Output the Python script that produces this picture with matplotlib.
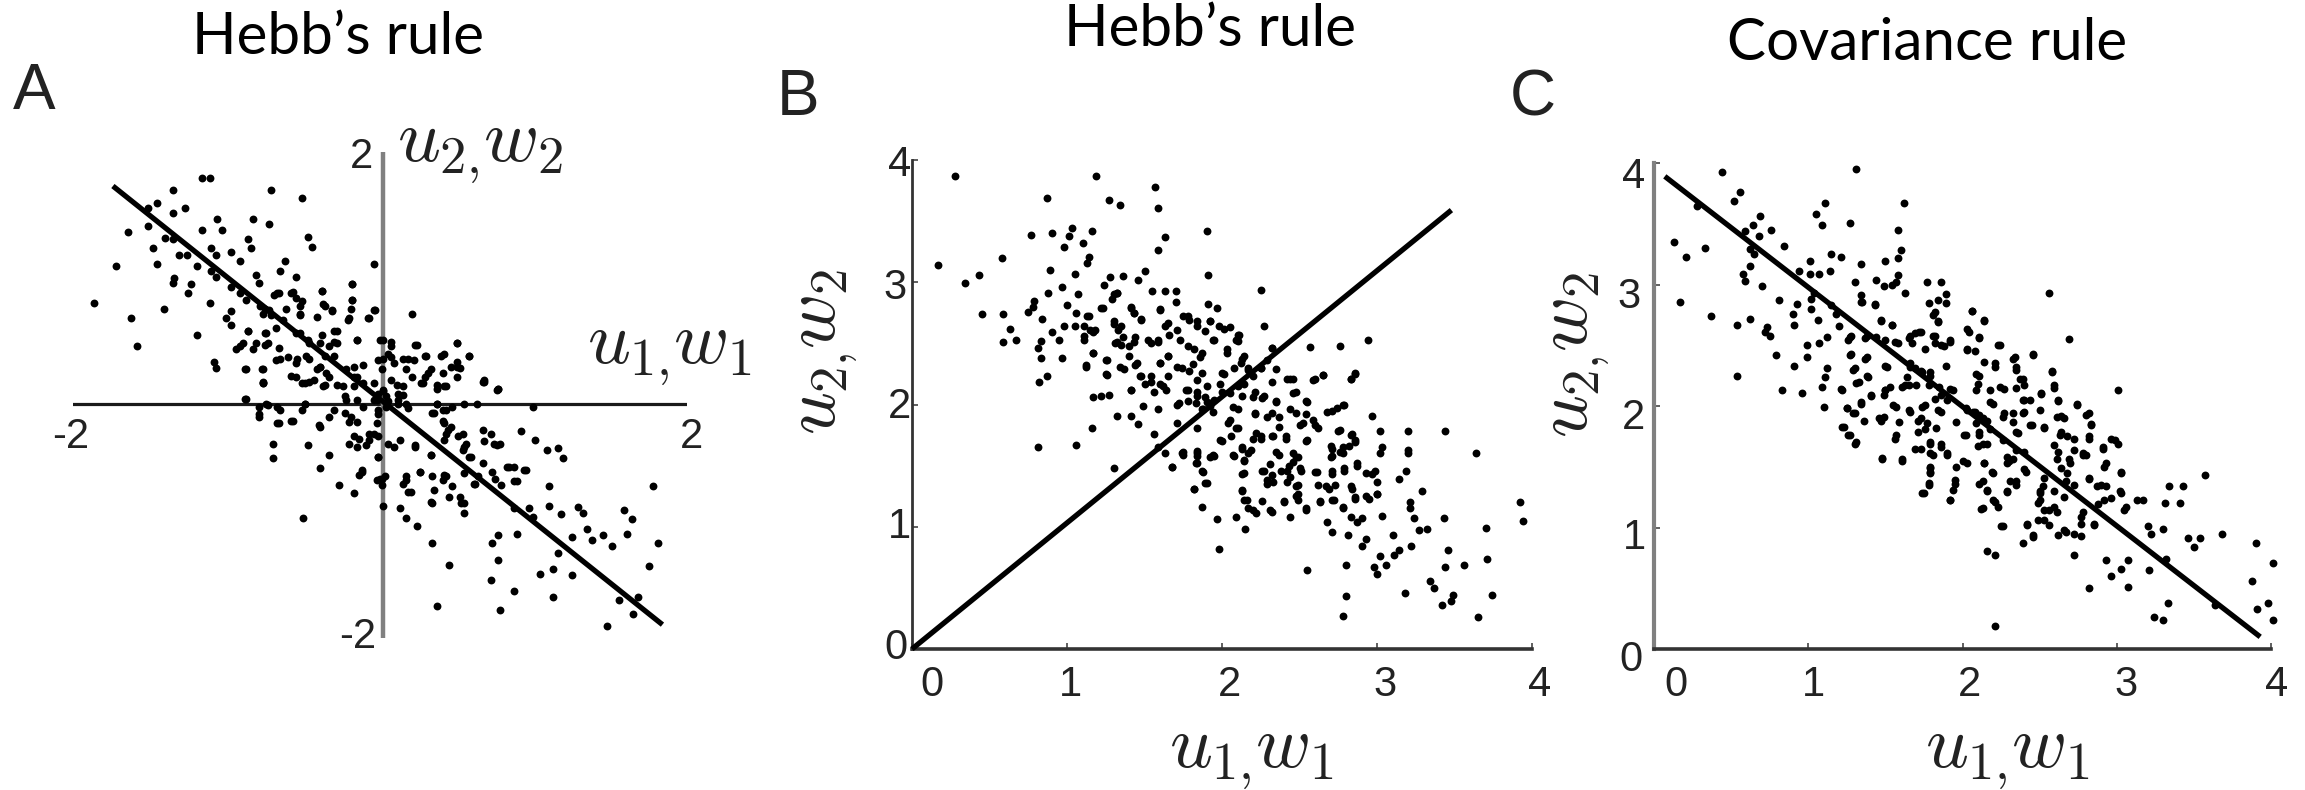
import numpy as np
import matplotlib
matplotlib.use('Agg')
import matplotlib.pyplot as plt

plt.rcParams['mathtext.fontset'] = 'cm'

W, H = 2305, 790

titles = ["Hebb\u2019s rule", "Hebb\u2019s rule", "Covariance rule"]
panel_letters = ['A', 'B', 'C']
ticks_ab = [0, 1, 2, 3, 4]

# (u, w)
points_a = [(-1.11,1.79),(-1.16,1.79),(-1.35,1.69),(-0.71,1.69),(-0.51,1.62),(-1.45,1.58),(-1.51,1.54),(-1.27,1.54),(-1.35,1.50),
(-1.06,1.45),(-0.83,1.45),(-0.72,1.41),(-1.64,1.34),(-1.51,1.39),(-1.16,1.36),(-1.03,1.36),(-0.47,1.30),(-0.44,1.22),(-1.40,1.29),(-1.35,1.28),
(-0.86,1.28),(-0.84,1.21),(-0.91,1.10),(-1.48,1.21),(-1.45,1.08),(-1.31,1.15),(-1.26,1.15),(-1.10,1.21),(-0.97,1.18),(-1.07,1.15),
(-1.72,1.06),(-0.04,1.08),(-0.62,1.10),(-0.65,1.02),(-0.55,0.97),(-1.19,1.06),(-1.10,1.02),(-1.07,0.97),(-0.81,0.99),(-0.79,0.92),
(-1.34,0.96),(-1.35,0.92),(-1.23,0.91),(-1.25,0.84),(-0.97,0.89),(-0.91,0.84),(-0.87,0.78),(-0.57,0.85),(-0.55,0.80),(-0.67,0.84),
(-0.38,0.86),(-0.18,0.91),(-0.18,0.78),(-1.86,0.76),(-1.11,0.76),(-1.41,0.71),(-1.62,0.63),(0.21,0.67),(-0.75,0.71),(-0.71,0.66),
(-0.97,0.69),(-1.00,0.63),(-0.97,0.58),(-0.52,0.73),(-0.52,0.66),(-0.36,0.73),(-0.31,0.69),(-0.19,0.71),(-0.20,0.63),(-0.04,0.70),(-0.07,0.63),
(-0.63,0.62),(-0.68,0.55),(-0.55,0.51),(-0.30,0.53),(-1.19,0.49),(-1.58,0.40),(-0.86,0.53),(-0.75,0.51),(-0.91,0.40),(-0.81,0.43),(-0.73,0.43),
(-0.47,0.45),(-0.39,0.43),(-0.30,0.44),(-0.15,0.45),(0.02,0.45),(0.07,0.40),(0.24,0.41),(0.50,0.43),(0.42,0.34),(0.58,0.32),(0.29,0.32),(0.18,0.30),
(-1.08,0.27),(-1.07,0.22),(-0.87,0.21),(-0.76,0.21),(-0.76,0.11),(-0.65,0.30),(-0.55,0.26),(-0.46,0.30),(-0.39,0.23),(-0.30,0.32),(-0.17,0.23),
(-0.01,0.29),(0.09,0.26),(0.05,0.34),(-0.55,0.15),(-0.43,0.12),(-0.33,0.15),(-0.17,0.15),(-0.04,0.10),(0.07,0.12),(0.15,0.07),(0.02,0.03),
(0.31,0.18),(0.41,0.18),(0.50,0.23),(0.28,0.10),(0.42,0.07),(0.68,0.12),(0.77,0.05),(-0.76,0.10),(-0.49,0.10),(-0.36,0.08),(-0.17,0.07),
(0.02,0.04),(0.12,0.01),(0.37,0.08),(0.68,0.11),(0.76,0.04),(-0.87,-0.03),(-0.79,-0.10),(-0.79,-0.18),(-0.73,-0.08),(-0.65,-0.12),(-0.67,-0.23),
(-0.57,-0.21),(-0.49,-0.07),(-0.39,-0.26),(-0.30,-0.12),(-0.22,-0.04),(-0.19,-0.18),(-0.04,-0.04),(0.05,-0.05),(0.12,-0.04),(-0.01,-0.16),(0.18,-0.11),
(0.37,-0.07),(0.41,-0.12),(0.47,-0.10),(0.55,-0.07),(0.34,-0.15),(0.42,-0.23),(0.63,-0.07),(1.00,-0.10),(-0.70,-0.40),(-0.70,-0.52),(-0.47,-0.41),
(-0.33,-0.49),(-0.39,-0.60),(-0.20,-0.40),(-0.14,-0.36),(-0.07,-0.32),(-0.01,-0.34),(0.05,-0.40),(-0.01,-0.51),(0.23,-0.41),(0.33,-0.49),
(0.44,-0.29),(0.42,-0.37),(0.51,-0.34),(0.55,-0.43),(0.58,-0.51),(0.68,-0.38),(0.76,-0.41),(0.92,-0.30),(1.01,-0.37),(1.09,-0.45),(1.16,-0.44),(1.19,-0.52),
(-0.12,-0.63),(0.01,-0.69),(0.01,-0.74),(-0.27,-0.74),(-0.17,-0.81),(0.17,-0.70),(0.26,-0.63),(0.18,-0.80),(0.34,-0.67),(0.42,-0.66),(0.47,-0.75),
(0.34,-0.89),(0.55,-0.89),(0.55,-0.64),(0.62,-0.73),(0.73,-0.63),(0.84,-0.59),(0.95,-0.62),(0.89,-0.71),(0.79,-0.74),(1.10,-0.75),(1.78,-0.75),
(0.02,-0.91),(0.13,-0.93),(0.17,-1.01),(0.24,-1.08),(0.55,-0.97),(-0.50,-1.01),(0.87,-0.93),(0.97,-0.93),(1.00,-1.00),(1.10,-0.91),(1.18,-0.98),
(1.29,-0.92),(1.32,-0.97),(1.59,-0.95),(1.64,-1.02),(0.34,-1.22),(0.89,-1.14),(0.77,-1.15),(0.73,-1.22),(1.25,-1.17),(1.35,-1.10),(1.38,-1.19),
(1.45,-1.15),(1.51,-1.24),(1.61,-1.14),(1.81,-1.22),(1.16,-1.30),(0.45,-1.40),(0.77,-1.36),(1.75,-1.41),(1.25,-1.48),(1.13,-1.43),(1.04,-1.47),
(0.72,-1.52),(0.87,-1.61),(1.13,-1.66),(0.37,-1.74),(0.78,-1.77),(1.56,-1.69),(1.68,-1.66),(1.65,-1.80),(1.48,-1.90)]

dense_a = [(-0.39,0.23),(-0.36,0.32),(-0.35,0.18),(-0.37,0.07),(-0.41,0.21),(-0.28,0.53),(-0.28,0.43),(-0.33,0.40),(-0.38,0.49),(-0.46,0.43),(-0.52,0.51),
(-0.22,0.21),(-0.15,0.15),(-0.11,0.10),(-0.24,0.07),(-0.28,0.08),(-0.01,0.01),(-0.02,-0.04),(0.04,-0.01),(0.11,0.08),(0.15,0.00),(0.12,-0.07),(0.04,-0.10),
(-0.01,-0.12),(0.17,-0.07),(-0.48,0.32),(-0.54,0.30),(-0.60,0.31),(-0.68,0.29),(-0.51,0.10),(-0.46,0.11),(-0.58,0.16),(-0.77,0.21),(-0.76,0.10),(-0.88,0.21),
(0.37,-0.07),(0.43,-0.12),(0.41,-0.21),(0.46,-0.26),(0.43,-0.32),(0.35,-0.15),(0.54,-0.32),(0.56,-0.40),(0.54,-0.45),(0.59,-0.51),(0.67,-0.56),(0.74,-0.40),
(0.67,-0.29),(0.72,-0.32),(0.78,-0.40),(-0.17,-0.34),(-0.15,-0.43),(-0.09,-0.41),(-0.04,-0.32),(-0.07,-0.37),(-0.02,-0.23),(0.13,-0.37),(0.09,-0.43),(0.23,-0.43),
(0.33,-0.49),(-0.01,-0.51),(-0.23,-0.01),(-0.23,-0.15),(-0.15,-0.04),(-0.11,-0.10),(-0.33,-0.18),(-0.40,-0.25),(-0.20,-0.22),(-0.15,-0.22),(-0.49,-0.07),(-0.51,-0.12),
(-0.67,-0.10),(-0.74,-0.07),(-0.79,-0.16),(-0.66,-0.23),(-0.58,-0.21),(-0.88,-0.03),(0.00,-0.69),(-0.02,-0.70),(0.03,-0.67),(-0.12,-0.62),(-0.14,-0.66),(0.15,-0.73),
(0.17,-0.67),(0.26,-0.63),(0.20,-0.80),(0.35,-0.78),(0.43,-0.67),(0.41,-0.70),(0.45,-0.84),(0.52,-0.84),(0.53,-0.89),(0.33,-0.88),(0.61,-0.73),(0.64,-0.67),(0.75,-0.69),
(0.83,-0.59),(0.87,-0.59),(0.87,-0.71),(0.94,-0.62),(-0.76,0.67),(-0.72,0.70),(-0.78,0.73),(-0.69,0.82),(-0.66,0.84),(-0.58,0.84),(-0.51,0.77),(-0.52,0.67),(-0.61,0.71),
(-0.38,0.86),(-0.37,0.75),(-0.31,0.70),(-0.41,0.64),(-0.18,0.91),(-0.18,0.78),(-0.21,0.62),(-0.03,0.70),(-0.08,0.63),(-0.86,0.53),(-0.74,0.51),(-0.75,0.41),(-0.89,0.43),
(-0.94,0.38),(-0.83,0.38),(-0.66,0.39),(-0.15,0.45),(0.00,0.45),(0.07,0.44),(0.23,0.41),(0.02,0.30),(0.07,0.31),(0.15,0.30),(0.22,0.29),(0.30,0.32),(0.40,0.32),(0.50,0.43),
(0.58,0.32),(0.50,0.27),(0.46,0.23),(0.52,0.22),(0.50,0.15),(0.33,0.21),(0.29,0.15),(0.27,0.10),(0.17,0.21),(0.21,0.15),(0.01,0.21),(-0.11,0.25),(0.67,0.11),(0.77,0.05),(0.43,0.07),(0.37,0.05)]

points_b = [(0.28,3.87),(1.19,3.87),(1.57,3.78),(0.87,3.69),(1.27,3.67),(1.34,3.63),(1.59,3.61),(0.77,3.39),(0.90,3.40),(1.03,3.44),(1.01,3.38),
(0.98,3.29),(1.10,3.32),(1.16,3.42),(1.63,3.37),(1.59,3.26),(1.90,3.42),(0.58,3.20),(0.17,3.14),(1.14,3.21),(1.13,3.16),(0.89,3.10),(1.05,3.07),
(0.43,3.06),(0.34,2.99),(1.91,3.06),(1.50,3.09),(1.46,3.02),(1.36,3.05),(1.28,3.04),(1.24,2.98),(2.25,2.94),(0.97,2.96),(0.88,2.91),(1.07,2.90),
(1.32,2.91),(1.29,2.86),(1.55,2.93),(1.63,2.93),(1.70,2.93),(1.70,2.84),(0.79,2.85),(0.78,2.80),(0.75,2.76),(1.00,2.81),(1.41,2.80),(1.43,2.75),
(1.60,2.78),(1.91,2.82),(1.97,2.79),(0.45,2.74),(0.59,2.74),(0.84,2.70),(1.06,2.75),(1.14,2.72),(1.22,2.79),(1.48,2.70),(1.30,2.68),(1.35,2.64),
(0.98,2.64),(1.05,2.64),(1.11,2.64),(0.90,2.59),(0.63,2.62),(0.59,2.51),(0.67,2.53),(2.27,2.64),(1.78,2.72),(1.84,2.68),(1.92,2.68),(1.98,2.64),
(2.05,2.63),(2.10,2.57),(2.10,2.52),(1.65,2.67),(1.71,2.61),(1.59,2.53),(1.52,2.53),(1.44,2.55),(0.83,2.52),(0.81,2.46),(0.95,2.53),(1.11,2.56),
(1.17,2.59),(1.32,2.51),(1.40,2.48),(2.94,2.53),(2.76,2.48),(2.57,2.47),(2.32,2.46),(0.83,2.38),(0.97,2.38),(1.17,2.42),(1.12,2.32),(1.25,2.36),
(1.65,2.40),(1.60,2.34),(1.40,2.40),(1.44,2.32),(1.37,2.29),(1.25,2.25),(1.78,2.48),(1.87,2.42),(1.95,2.53),(2.03,2.45),(2.13,2.37),(2.17,2.30),
(1.71,2.31),(1.81,2.33),(1.87,2.26),(2.00,2.26),(2.08,2.30),(2.25,2.30),(2.35,2.29),(2.44,2.21),(2.32,2.18),(2.65,2.24),(2.60,2.21),(2.86,2.26),
(2.83,2.21),(0.87,2.23),(0.82,2.18),(1.48,2.23),(1.54,2.18),(1.62,2.15),(1.41,2.12),(1.56,2.10),(1.65,2.23),(1.17,2.06),(1.22,2.07),(1.27,2.08),
(1.78,2.12),(1.84,2.07),(1.90,2.02),(1.95,2.04),(1.87,1.96),(1.92,1.99),(2.00,2.10),(2.10,2.15),(2.13,2.07),(2.21,2.10),(2.27,2.07),(2.35,2.03),
(2.48,2.10),(2.54,2.03),(1.78,2.03),(1.71,2.00),(1.49,1.99),(1.59,1.96),(1.32,1.91),(1.41,1.91),(1.46,1.84),(1.16,1.81),(2.78,2.00),(2.71,1.95),
(2.97,1.91),(2.10,1.96),(2.21,1.92),(2.32,1.93),(2.44,1.96),(2.54,1.92),(2.60,1.83),(2.52,1.85),(1.71,1.85),(1.84,1.81),(2.05,1.87),(2.10,1.81),
(2.22,1.77),(2.32,1.74),(2.41,1.72),(2.54,1.70),(2.25,1.72),(2.06,1.74),(2.76,1.79),(2.84,1.76),(2.86,1.69),(2.78,1.65),(2.71,1.64),(3.02,1.78),
(3.20,1.78),(3.44,1.78),(3.03,1.65),(3.20,1.63),(3.64,1.60),(1.56,1.76),(0.81,1.65),(1.06,1.67),(2.00,1.70),(2.13,1.65),(2.35,1.61),(2.46,1.60),
(1.59,1.65),(1.75,1.61),(1.84,1.62),(1.94,1.59),(1.30,1.48),(1.68,1.49),(1.75,1.59),(1.84,1.58),(1.95,1.58),(2.08,1.58),(2.17,1.60),(2.37,1.59),
(1.84,1.52),(1.87,1.46),(2.14,1.54),(2.13,1.43),(2.27,1.46),(2.32,1.42),(2.29,1.35),(2.38,1.46),(2.43,1.50),(2.49,1.57),(2.51,1.46),(2.44,1.41),
(2.49,1.34),(2.49,1.27),(2.49,1.22),(2.61,1.45),(2.71,1.43),(2.79,1.46),(2.87,1.50),(2.71,1.58),(2.78,1.60),(2.97,1.43),(3.00,1.37),(3.19,1.46),
(3.14,1.39),(3.02,1.60),(3.20,1.60),(2.73,1.34),(2.67,1.33),(2.84,1.31),(1.89,1.36),(1.82,1.31),(1.87,1.16),(2.13,1.29),(2.14,1.22),(2.17,1.15),
(2.22,1.11),(2.32,1.12),(2.40,1.20),(2.54,1.14),(2.63,1.20),(2.71,1.22),(2.78,1.15),(2.83,1.08),(2.87,1.04),(2.90,1.07),(2.86,1.24),(2.95,1.23),
(3.00,1.27),(1.97,1.06),(2.09,1.08),(2.15,0.98),(2.44,1.08),(2.68,1.04),(2.71,0.96),(2.81,0.93),(3.03,1.09),(3.29,1.29),(3.21,1.20),(3.21,1.15),
(3.24,1.07),(3.27,0.97),(3.32,0.98),(3.43,1.07),(3.10,0.93),(2.93,0.90),(2.90,0.84),(3.92,1.20),(3.94,1.05),(3.70,0.99),(1.98,0.82),(2.55,0.65),
(2.80,0.69),(2.80,0.43),(2.78,0.27),(3.22,0.84),(3.14,0.81),(3.11,0.77),(3.02,0.76),(3.06,0.69),(2.98,0.67),(3.00,0.61),(3.46,0.81),(3.44,0.67),
(3.56,0.69),(3.71,0.74),(3.34,0.56),(3.37,0.50),(3.18,0.46),(3.49,0.44),(3.48,0.39),(3.42,0.36),(3.74,0.44),(3.65,0.26)]

dense_b = [(1.30,2.66),(1.33,2.61),(1.36,2.55),(1.31,2.50),(1.35,2.49),(1.43,2.51),(1.54,2.50),(1.59,2.51),(1.63,2.64),(1.66,2.57),(1.75,2.72),(1.79,2.69),(1.84,2.64),
(1.89,2.60),(1.92,2.68),(2.01,2.62),(2.11,2.57),(2.09,2.53),(1.73,2.53),(1.82,2.45),(1.86,2.39),(1.94,2.53),(2.03,2.42),(2.14,2.40),(2.12,2.34),(1.74,2.30),(1.79,2.27),
(1.84,2.20),(1.77,2.12),(1.84,2.10),(1.90,2.15),(1.89,2.06),(1.92,2.01),(1.88,1.96),(1.94,1.94),(1.83,2.01),(1.72,2.01),(2.01,2.25),(1.99,2.17),(2.05,2.09),(2.14,2.17),
(2.17,2.28),(2.25,2.30),(2.20,2.23),(2.29,2.36),(2.32,2.46),(1.47,2.23),(1.54,2.23),(1.60,2.17),(1.64,2.12),(1.50,2.17),(1.41,2.12),(1.26,2.24),(1.34,2.31),(1.45,2.34),
(1.60,2.34),(1.65,2.40),(2.20,2.06),(2.26,2.05),(2.35,2.02),(2.37,1.90),(2.37,1.82),(2.41,1.74),(2.33,1.74),(2.25,1.74),(2.20,1.72),(2.29,1.90),(2.48,1.93),(2.55,2.02),
(2.46,2.09),(2.59,1.87),(2.62,1.81),(2.50,1.83),(2.55,1.71),(2.04,1.85),(2.09,1.81),(2.07,1.98),(2.21,1.93),(1.99,1.71),(2.42,2.21),(2.46,2.21),(2.59,2.20),(2.65,2.24),
(2.83,2.21),(2.86,2.25),(2.68,1.94),(2.74,1.97),(2.79,2.00),(1.84,1.60),(1.83,1.52),(1.74,1.60),(1.68,1.49),(1.63,1.60),(1.92,1.57),(2.07,1.59),(2.13,1.64),(2.19,1.63),
(2.14,1.55),(2.26,1.46),(2.31,1.51),(2.29,1.38),(2.33,1.37),(2.42,1.46),(2.46,1.53),(2.48,1.57),(2.50,1.48),(2.42,1.37),(2.48,1.33),(2.48,1.25),(2.14,1.44),(2.13,1.30),
(2.16,1.22),(2.20,1.14),(2.26,1.21),(2.31,1.14),(2.40,1.21),(2.54,1.15),(2.63,1.21),(2.72,1.22),(2.78,1.16),(1.90,1.36),(1.82,1.31),(1.88,1.45),(2.70,1.66),(2.70,1.57),
(2.76,1.61),(2.82,1.66),(2.86,1.71),(2.83,1.75),(2.75,1.78),(2.60,1.45),(2.71,1.46),(2.79,1.48),(2.87,1.52),(2.62,1.34),(2.69,1.31),(2.83,1.33),(2.86,1.23),(2.93,1.25),
(3.00,1.27),(2.93,1.44),(2.99,1.46),(1.15,2.61),(1.13,2.72),(1.18,2.61),(1.11,2.53),(1.17,2.42),(1.26,2.36),(1.12,2.31),(1.41,2.79),(1.43,2.75),(1.48,2.69),(1.60,2.77),
(1.30,2.90),(1.32,2.91),(1.23,2.79)]

points_c = [(0.44,3.93),(1.31,3.95),(0.56,3.76),(0.52,3.69),(0.28,3.65),(1.11,3.67),(1.62,3.67),(1.05,3.58),(1.09,3.49),(1.27,3.51),(0.69,3.56),
(0.64,3.49),(0.76,3.45),(0.59,3.44),(0.68,3.40),(1.58,3.45),(0.13,3.35),(0.33,3.30),(0.21,3.23),(0.84,3.32),(0.62,3.29),(0.65,3.25),(1.60,3.28),
(1.58,3.22),(1.15,3.25),(1.21,3.23),(1.50,3.19),(1.01,3.19),(1.34,3.17),(0.62,3.15),(0.58,3.09),(0.59,3.03),(0.94,3.11),(1.01,3.09),(1.07,3.09),
(1.14,3.11),(1.58,3.08),(1.57,3.02),(1.44,3.04),(1.49,2.99),(1.54,3.00),(1.30,3.02),(0.70,2.99),(1.77,3.02),(1.86,3.02),(1.04,2.93),(1.02,2.88),
(1.63,2.93),(1.89,2.92),(1.84,2.87),(1.78,2.85),(1.89,2.85),(2.56,2.93),(0.17,2.86),(0.81,2.87),(1.34,2.91),(1.35,2.86),(1.43,2.84),(0.93,2.84),
(1.02,2.80),(0.90,2.76),(0.91,2.67),(1.06,2.71),(1.15,2.83),(1.18,2.76),(1.20,2.66),(0.37,2.74),(0.62,2.72),(0.54,2.67),(0.73,2.65),(0.72,2.61),
(0.75,2.58),(1.47,2.71),(1.54,2.67),(1.82,2.77),(1.84,2.70),(2.06,2.78),(2.14,2.71),(2.03,2.63),(2.11,2.57),(2.23,2.50),(2.69,2.55),(1.12,2.57),
(1.07,2.52),(0.99,2.50),(1.28,2.58),(1.26,2.54),(1.38,2.58),(1.44,2.57),(1.50,2.54),(1.58,2.52),(1.66,2.58),(1.73,2.61),(1.81,2.58),(1.86,2.50),
(1.92,2.54),(1.76,2.47),(2.03,2.47),(2.46,2.43),(2.34,2.40),(2.35,2.32),(2.58,2.29),(0.79,2.42),(0.99,2.40),(0.91,2.33),(0.54,2.25),(1.28,2.43),
(1.38,2.40),(1.30,2.31),(1.38,2.25),(1.33,2.20),(1.12,2.31),(1.11,2.24),(1.09,2.16),(1.50,2.33),(1.66,2.32),(1.73,2.29),(1.79,2.25),(1.89,2.33),
(2.11,2.25),(2.10,2.18),(2.21,2.35),(2.24,2.16),(2.37,2.22),(2.40,2.17),(1.21,2.14),(0.83,2.13),(0.96,2.11),(1.50,2.13),(1.41,2.09),(1.63,2.17),
(1.70,2.17),(1.86,2.09),(1.92,2.14),(3.01,2.13),(2.59,2.17),(2.51,2.11),(1.10,1.99),(1.25,1.98),(1.30,1.94),(1.34,2.03),(1.46,1.90),(1.55,2.01),
(1.66,1.95),(1.76,2.01),(1.86,1.95),(1.73,1.90),(1.76,1.81),(2.02,1.98),(2.08,1.95),(2.13,1.90),(2.18,2.03),(2.27,1.94),(2.40,1.95),(2.40,2.05),
(2.62,2.05),(2.74,2.02),(2.64,1.92),(2.82,1.94),(2.83,1.85),(2.64,1.79),(2.72,1.73),(2.82,1.75),(2.99,1.72),(2.91,1.66),(1.22,1.83),(1.26,1.76),
(1.31,1.70),(1.57,1.76),(2.11,1.79),(2.18,1.81),(2.02,1.76),(2.13,1.69),(2.35,1.79),(2.45,1.84),(2.53,1.83),(1.73,1.65),(1.79,1.70),(1.90,1.61),
(1.86,1.66),(2.29,1.58),(2.40,1.62),(2.62,1.62),(2.78,1.61),(1.48,1.57),(1.61,1.56),(1.79,1.61),(1.79,1.50),(1.79,1.46),(2.00,1.55),(1.78,1.37),
(1.74,1.28),(1.95,1.39),(1.94,1.31),(1.92,1.23),(2.14,1.53),(2.19,1.46),(2.13,1.38),(2.16,1.30),(2.21,1.21),(2.13,1.16),(2.30,1.55),(2.40,1.48),
(2.35,1.38),(2.29,1.30),(2.53,1.41),(2.50,1.30),(2.50,1.23),(2.59,1.30),(2.59,1.17),(2.66,1.25),(2.53,1.14),(2.53,1.06),(2.56,1.02),(2.64,1.49),
(2.69,1.56),(2.80,1.60),(2.67,1.38),(2.82,1.41),(2.93,1.53),(3.03,1.46),(2.90,1.35),(3.02,1.30),(2.96,1.24),(3.06,1.17),(2.88,1.19),(2.78,1.13),
(2.77,1.03),(2.85,1.03),(3.17,1.23),(3.31,1.20),(3.41,1.20),(3.34,1.34),(3.43,1.34),(3.57,1.43),(3.20,1.01),(3.22,0.95),(3.30,0.99),(3.46,0.91),
(3.54,0.91),(3.50,0.84),(3.68,0.95),(3.90,0.87),(2.26,1.01),(2.42,1.03),(2.46,0.94),(2.39,0.87),(2.62,0.94),(2.67,0.96),(2.77,0.93),(2.16,0.81),
(2.21,0.77),(2.72,0.77),(2.93,0.73),(3.07,0.73),(3.03,0.66),(2.96,0.60),(3.21,0.65),(3.32,0.74),(2.82,0.50),(3.07,0.51),(3.88,0.56),(4.01,0.71),
(3.98,0.38),(3.91,0.33),(4.01,0.24),(3.33,0.38),(3.24,0.26),(3.30,0.24),(3.64,0.36),(2.21,0.19)]

dense_c = [(1.69,2.60),(1.72,2.61),(1.82,2.58),(1.82,2.52),(1.88,2.49),(1.92,2.53),(1.65,2.56),(1.56,2.53),(1.67,2.52),(1.66,2.35),(1.69,2.31),(1.64,2.24),(1.65,2.17),
(1.61,2.16),(1.74,2.28),(1.79,2.28),(1.78,2.17),(1.50,2.13),(1.53,2.16),(1.49,2.09),(1.41,2.08),(1.85,2.16),(1.94,2.13),(1.82,2.06),(1.90,2.05),(2.03,1.97),(2.07,1.95),
(2.11,1.93),(2.09,1.86),(2.16,1.88),(2.20,2.02),(2.18,2.13),(2.27,2.14),(2.09,2.26),(2.09,2.13),(2.14,2.36),(2.21,2.32),(2.03,2.46),(2.08,2.45),(2.04,2.61),(2.11,2.56),
(2.24,2.50),(2.33,2.39),(2.35,2.30),(2.46,2.42),(2.58,2.28),(2.59,2.15),(2.39,2.22),(2.35,2.15),(2.39,2.05),(2.44,2.05),(2.51,2.10),(2.50,1.97),(2.62,2.04),(2.74,2.01),
(2.80,1.93),(2.83,1.84),(2.61,1.91),(2.66,1.90),(2.33,1.94),(2.39,1.94),(2.26,1.91),(2.33,1.87),(2.44,1.84),(2.53,1.82),(2.36,1.78),(1.57,1.99),(1.49,1.91),(1.47,1.88),
(1.59,1.87),(1.65,1.97),(1.74,1.99),(1.71,1.88),(1.77,1.86),(1.71,1.79),(1.84,1.97),(1.83,1.82),(1.96,1.87),(1.34,2.02),(1.25,1.98),(1.29,1.94),(1.36,1.88),(1.23,1.83),
(1.27,1.76),(1.30,1.69),(1.56,1.73),(2.01,1.76),(2.11,1.76),(2.10,1.67),(2.16,1.69),(1.69,1.65),(1.79,1.69),(1.86,1.69),(1.81,1.60),(1.90,1.60),(2.26,1.72),(2.35,1.64),
(1.48,1.56),(1.61,1.55),(1.96,1.50),(2.03,1.53),(1.79,1.49),(1.79,1.45),(2.14,1.53),(2.29,1.53),(2.33,1.56),(2.41,1.46),(2.63,1.76),(2.68,1.75),(2.82,1.73),(2.59,1.68),
(2.72,1.64),(2.78,1.60),(2.61,1.56),(2.70,1.53),(2.91,1.65),(2.96,1.73),(3.01,1.69),(1.78,1.35),(1.75,1.28),(1.95,1.36),(1.92,1.23),(2.11,1.36),(2.16,1.31),(2.20,1.45),
(2.31,1.38),(2.35,1.35),(2.29,1.29),(2.20,1.23),(2.12,1.15),(2.23,1.17),(2.50,1.28),(2.49,1.20),(2.56,1.14),(2.61,1.13),(2.52,1.34),(2.68,1.45),(2.72,1.35),(2.82,1.40),
(2.92,1.50),(3.03,1.45),(2.87,1.34),(2.93,1.34),(3.03,1.28),(2.92,1.23),(3.05,1.14),(3.13,1.23),(2.77,1.09),(2.85,1.02),(2.42,1.02),(2.25,1.01),(2.49,1.06),(2.66,0.98),
(2.72,0.95),(2.46,0.92),(1.27,2.57),(1.37,2.56),(1.27,2.42),(1.37,2.39),(1.29,2.30),(1.31,2.19),(1.39,2.24),(1.51,2.32),(1.22,2.13),(1.47,2.70),(1.54,2.67),(1.81,2.75),
(1.84,2.69),(2.06,2.78),(2.14,2.70),(1.43,2.83),(1.34,2.86)]

# weight vectors
line_a = [(-1.74, 1.72), (1.84, -1.89)]
line_b = [(0.0, 0.0), (3.48, 3.59)]
line_c = [(0.07, 3.89), (3.93, 0.10)]

label_u1 = r'$u_{1,}\!w_1$'
label_u2 = r'$u_{2,}\!w_2$'


def add_axes(left, right, top, bottom):
    return fig.add_axes([left/W, 1-bottom/H, (right-left)/W, (bottom-top)/H])


def put(x, y, s, size=30, **kw):
    kw.setdefault('family', 'Liberation Sans')
    fig.text(x/W, 1-y/H, s, fontsize=size, ha='center', va='center', color=kw.pop('color', '#222222'), **kw)


def draw_cloud(ax, points, line):
    pts = np.array(points)
    ends = np.array(line)
    ax.scatter(pts[:, 0], pts[:, 1], s=32, c='k', marker='o', linewidths=0, clip_on=False, zorder=3)
    ax.plot(ends[:, 0], ends[:, 1], color='k', lw=3.8, solid_capstyle='butt', clip_on=False, zorder=4)


fig = plt.figure(figsize=(W/100, H/100), dpi=100)

# panel A
ax = add_axes(73, 687, 152, 638)
ax.set_xlim(-2, 2)
ax.set_ylim(-2, 2)
ax.axis('off')
ax.plot([-2, 2], [-0.07, -0.07], color='#1a1a1a', lw=2.3, zorder=1)
ax.plot([0.02, 0.02], [-2, 2], color='#808080', lw=3.2, zorder=1)
draw_cloud(ax, points_a + dense_a, line_a)
put(362, 157, '2')
put(358, 637, '-2')
put(71, 437, '-2')
put(692, 437, '2')
put(480, 152, label_u2, size=54)
put(669, 354, label_u1, size=54)

# panels B and C
for left, right, top, points, line, side_color, side_lw in (
        (912, 1532, 160, points_b + dense_b, line_b, '#333333', 2.0),
        (1654, 2271, 163, points_c + dense_c, line_c, '#808080', 3.0)):
    ax = add_axes(left, right, top, 649)
    ax.set_xlim(0, 4)
    ax.set_ylim(0, 4)
    for s in ('top', 'right'):
        ax.spines[s].set_visible(False)
    ax.spines['left'].set_color(side_color)
    ax.spines['left'].set_linewidth(side_lw)
    ax.spines['bottom'].set_color('#333333')
    ax.spines['bottom'].set_linewidth(2.6)
    ax.set_xticks(ticks_ab)
    ax.set_yticks(ticks_ab)
    ax.tick_params(direction='in', length=4, width=1.2, color='#444444', labelbottom=False, labelleft=False)
    draw_cloud(ax, points, line)

for t, x, y in zip(ticks_ab, (932, 1070, 1229, 1385, 1540), (685,)*5):
    put(x, y, str(t))
for t, x, y in zip(ticks_ab, (896, 899, 900, 895, 900), (648, 527, 407, 288, 165)):
    put(x, y, str(t))
for t, x, y in zip(ticks_ab, (1676, 1813, 1970, 2126, 2277), (685,)*5):
    put(x, y, str(t))
for t, x, y in zip(ticks_ab, (1631, 1634, 1634, 1629, 1634), (660, 538, 418, 297, 177)):
    put(x, y, str(t))

put(1251, 757, label_u1, size=54)
put(2007, 757, label_u1, size=54)
put(825, 352, label_u2, size=54, rotation=90)
put(1577, 355, label_u2, size=54, rotation=90)

# titles and panel letters
for x, y, s in zip((338, 1210, 1927), (38, 29, 43), titles):
    put(x, y, s, size=42, family='Lato', color='k')
for x, y, s in zip((34, 798, 1533), (92, 98, 98), panel_letters):
    put(x, y, s, size=46)

fig.savefig('out.png', dpi=100)
